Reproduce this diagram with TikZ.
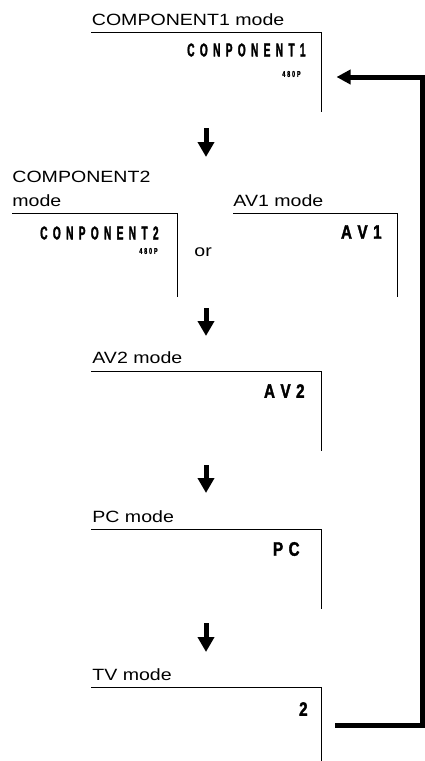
\documentclass[tikz,border=0pt]{standalone}
\usepackage{fontspec}
\setmainfont{Liberation Sans}
\newfontfamily\lblfont[FakeStretch=1.2]{Liberation Sans}
\newfontfamily\dispfont[FakeStretch=0.55,FakeBold=1.6]{Liberation Sans}
\newfontfamily\smallfont[FakeStretch=0.65,FakeBold=1.2]{Liberation Sans}
\newfontfamily\avfont[FakeStretch=0.78,FakeBold=1.8]{Liberation Sans}
\usetikzlibrary{arrows.meta}
\newcommand\Kc{\kern5.3pt}
\newcommand\Ks{\kern1.8pt}
\newcommand\Ka{\kern5.5pt}
\begin{document}
\begin{tikzpicture}[x=1pt,y=-1pt,line width=0.8pt,line join=miter,
  modelbl/.style={anchor=base west,inner sep=0pt,font=\lblfont\fontsize{16.3}{18}\selectfont},
  compdisp/.style={anchor=east,inner sep=0pt,font=\dispfont\bfseries\fontsize{18.5}{20}\selectfont},
  smalldisp/.style={anchor=east,inner sep=0pt,font=\smallfont\bfseries\fontsize{8.5}{9}\selectfont},
  avdisp/.style={anchor=east,inner sep=0pt,font=\avfont\bfseries\fontsize{19.5}{21}\selectfont},
  downarrow/.style={line width=5pt,-{Triangle[width=16pt,length=15pt]}},
  returnline/.style={line width=5pt,-{Triangle[width=14pt,length=14pt]}}]
\useasboundingbox (0,0) rectangle (425,761);

% screens
\draw (91,32) -- (321,32) -- (321,112);
\draw (12,213) -- (177,213) -- (177,297);
\draw (233,213) -- (397,213) -- (397,297);
\draw (91,371) -- (321,371) -- (321,451);
\draw (91,529) -- (321,529) -- (321,609);
\draw (91,687) -- (321,687) -- (321,761);

% mode labels
\node[modelbl] (l1) at (91.5,25.5) {COMPONENT1 mode};
\node[modelbl] (l2a) at (12,182) {COMPONENT2};
\node[modelbl] (l2b) at (12,206) {mode};
\node[modelbl] (l3) at (233,206) {AV1 mode};
\node[modelbl] (l4) at (92,363) {AV2 mode};
\node[modelbl] (l5) at (92,522.5) {PC mode};
\node[modelbl] (l6) at (92,680) {TV mode};
\node[modelbl] (or) at (194,256.5) {or};

% on-screen displays
\node[compdisp] (d1) at (306,50) {C\Kc O\Kc N\Kc P\Kc O\Kc N\Kc E\Kc N\Kc T\Kc 1};
\node[smalldisp] (d1s) at (301,74) {4\Ks 8\Ks 0\Ks P};
\node[compdisp] (d2) at (159,233) {C\Kc O\Kc N\Kc P\Kc O\Kc N\Kc E\Kc N\Kc T\Kc 2};
\node[smalldisp] (d2s) at (158,251) {4\Ks 8\Ks 0\Ks P};
\node[avdisp] (d3) at (382,232) {A\Ka V\Ka 1};
\node[avdisp] (d4) at (305,391) {A\Ka V\Ka 2};
\node[avdisp] (d5) at (300,549) {P\Ka C};
\node[avdisp] (d6) at (308,709) {2};

% down arrows
\coordinate (a1s) at (206,128); \coordinate (a1e) at (206,157);
\coordinate (a2s) at (206,308); \coordinate (a2e) at (206,336);
\coordinate (a3s) at (206,465); \coordinate (a3e) at (206,493);
\coordinate (a4s) at (206,623); \coordinate (a4e) at (206,652);
\draw[downarrow] (a1s) -- (a1e);
\draw[downarrow] (a2s) -- (a2e);
\draw[downarrow] (a3s) -- (a3e);
\draw[downarrow] (a4s) -- (a4e);

% return connector
\coordinate (tvout) at (335,725.5);
\coordinate (rb) at (422.5,725.5);
\coordinate (rt) at (422.5,77);
\coordinate (c1in) at (336.5,77);
\draw[returnline] (tvout) -- (rb) -- (rt) -- (c1in);
\end{tikzpicture}
\end{document}
